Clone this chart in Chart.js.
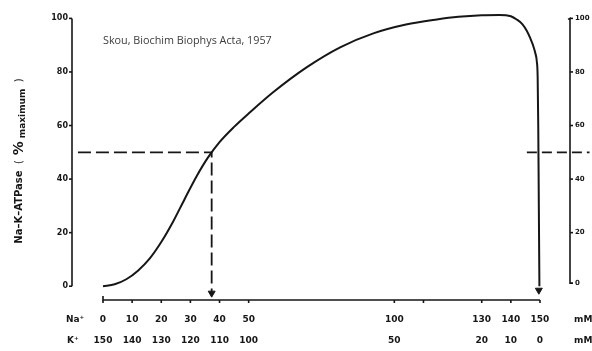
<!DOCTYPE html>
<html>
<head>
<meta charset="utf-8">
<script src="https://cdn.jsdelivr.net/npm/chart.js@4/dist/chart.umd.min.js"></script>
<style>
  html, body { margin: 0; padding: 0; background: #fff; }
  #wrap { width: 592px; height: 351px; position: relative; }
</style>
</head>
<body>
<div id="wrap"><canvas id="skou-chart"></canvas></div>
<script>
// Na+ concentration (mM) and Na-K-ATPase activity (% maximum)
const naConc = [0, 4, 8, 12, 16, 20, 24, 28, 32, 36, 40, 45, 50, 58.5, 70, 81.4, 92.8, 104, 114.6, 122, 130, 136, 140, 142, 144, 145.5, 146.7, 147.6, 148.4, 148.9, 149.2, 149.4, 149.6, 149.8];
const activity = [0, 0.7, 2.6, 5.8, 10.3, 16.5, 24, 32.5, 40.8, 48, 53.8, 59.5, 64.5, 72.5, 81.8, 89.2, 94.4, 97.7, 99.6, 100.6, 101.2, 101.3, 100.8, 99.6, 97.8, 95.3, 92.5, 90, 87, 84, 78, 60, 30, 0];

// tick labels
const naTicks = [0, 10, 20, 30, 40, 50, 100, 130, 140, 150];
const kTicks = [150, 140, 130, 120, 110, 100, 50, 20, 10, 0];
const yTicks = [0, 20, 40, 60, 80, 100];

// half-maximum markers
const halfMax = 50;
const halfNaLeft = 37.3;
const halfNaRight = 149.6;

const X_MIN = -10.64;
const X_MAX = 160.3;
const Y_MIN = -5.15;
const Y_MAX = 105;

const INK = '#161616';

const axes = {
  id: 'axes',
  afterDraw(chart) {
    const { ctx, scales: { x, y } } = chart;
    const left = x.getPixelForValue(X_MIN);
    const right = x.getPixelForValue(X_MAX);
    const y0 = y.getPixelForValue(0);
    const y100 = y.getPixelForValue(100);
    const axisY = y.getPixelForValue(Y_MIN);

    ctx.save();
    ctx.strokeStyle = INK;
    ctx.fillStyle = INK;
    ctx.lineWidth = 1.6;

    // left axis
    ctx.beginPath();
    ctx.moveTo(left, y100);
    ctx.lineTo(left, y0);
    ctx.stroke();
    ctx.font = 'bold 8px "DejaVu Sans"';
    ctx.textAlign = 'right';
    ctx.textBaseline = 'middle';
    yTicks.forEach((v) => {
      const py = y.getPixelForValue(v);
      ctx.beginPath();
      ctx.moveTo(left - 3, py);
      ctx.lineTo(left, py);
      ctx.stroke();
      ctx.fillText(String(v), left - 4, py);
    });

    // right axis
    ctx.beginPath();
    ctx.moveTo(right - 2, y100 + 1);
    ctx.lineTo(right, y100);
    ctx.lineTo(right, y0 - 3);
    ctx.lineTo(right + 3, y0 - 3);
    ctx.stroke();
    ctx.font = 'bold 7px "DejaVu Sans"';
    ctx.textAlign = 'left';
    yTicks.forEach((v) => {
      const py = v === 0 ? y0 - 3 : y.getPixelForValue(v);
      ctx.beginPath();
      ctx.moveTo(right, py);
      ctx.lineTo(right + 3, py);
      ctx.stroke();
      ctx.fillText(String(v), right + 5, py);
    });

    // x axis
    const xa = x.getPixelForValue(0);
    const xb = x.getPixelForValue(150);
    ctx.beginPath();
    ctx.moveTo(xa, axisY - 4);
    ctx.lineTo(xa, axisY);
    ctx.lineTo(xb, axisY);
    ctx.stroke();
    naTicks.concat([110]).forEach((v) => {
      const px = x.getPixelForValue(v);
      ctx.beginPath();
      ctx.moveTo(px, axisY);
      ctx.lineTo(px, axisY + 3);
      ctx.stroke();
    });

    ctx.font = 'bold 9px "DejaVu Sans"';
    ctx.textAlign = 'center';
    naTicks.forEach((v, i) => {
      const px = x.getPixelForValue(v);
      ctx.fillText(String(v), px, axisY + 20);
      ctx.fillText(String(kTicks[i]), px, axisY + 41);
    });
    ctx.textAlign = 'left';
    ctx.fillText('Na⁺', 66, axisY + 20);
    ctx.fillText('K⁺', 67, axisY + 41);
    ctx.fillText('mM', 574, axisY + 20);
    ctx.fillText('mM', 574, axisY + 41);

    // y axis title
    ctx.translate(19, 161);
    ctx.rotate(-Math.PI / 2);
    ctx.textAlign = 'left';
    ctx.textBaseline = 'middle';
    const parts = [
      ['Na–K–ATPase', 'bold 10px "DejaVu Sans"', 0],
      ['  (', '10px "DejaVu Sans"', 0],
      [' %', 'bold 14px "DejaVu Sans"', 0],
      [' maximum', 'bold 9px "DejaVu Sans"', 4],
      ['  )', '10px "DejaVu Sans"', 0],
    ];
    let total = 0;
    parts.forEach(([t, f]) => { ctx.font = f; total += ctx.measureText(t).width; });
    let cx = -total / 2;
    parts.forEach(([t, f, dy]) => {
      ctx.font = f;
      ctx.fillText(t, cx, dy);
      cx += ctx.measureText(t).width;
    });
    ctx.restore();

    // citation
    ctx.save();
    ctx.fillStyle = '#3c3c3c';
    ctx.font = '10.8px "Open Sans"';
    ctx.textBaseline = 'alphabetic';
    ctx.fillText('Skou, Biochim Biophys Acta, 1957', 103, 44);
    ctx.restore();
  },
};

const curve = naConc.map((v, i) => ({ x: v, y: activity[i] }));

new Chart(document.getElementById('skou-chart'), {
  type: 'scatter',
  data: {
    datasets: [
      {
        data: curve,
        showLine: true,
        borderColor: INK,
        borderWidth: 2,
        pointRadius: 0,
        cubicInterpolationMode: 'monotone',
        clip: false,
      },
      {
        data: [{ x: -8.6, y: halfMax }, { x: halfNaLeft, y: halfMax }, { x: halfNaLeft, y: -2 }],
        showLine: true,
        borderColor: INK,
        borderWidth: 1.8,
        borderDash: [13, 5],
        pointRadius: 0,
        clip: false,
      },
      {
        data: [{ x: 145.5, y: halfMax }, { x: 167, y: halfMax }],
        showLine: true,
        borderColor: INK,
        borderWidth: 1.8,
        borderDash: [10, 5],
        pointRadius: 0,
        clip: false,
      },
      {
        data: [{ x: halfNaLeft, y: -2.6 }, { x: halfNaRight, y: -1.5 }],
        showLine: false,
        pointStyle: 'triangle',
        rotation: 180,
        pointRadius: 4,
        backgroundColor: INK,
        borderColor: INK,
        borderWidth: 1,
        clip: false,
      },
    ],
  },
  options: {
    responsive: true,
    maintainAspectRatio: false,
    animation: false,
    layout: { padding: { left: 72, right: 22, top: 0, bottom: 51 } },
    scales: {
      x: { type: 'linear', min: X_MIN, max: X_MAX, display: false },
      y: { type: 'linear', min: Y_MIN, max: Y_MAX, display: false },
    },
    plugins: {
      legend: { display: false },
      tooltip: { enabled: false },
    },
  },
  plugins: [axes],
});
</script>
</body>
</html>
